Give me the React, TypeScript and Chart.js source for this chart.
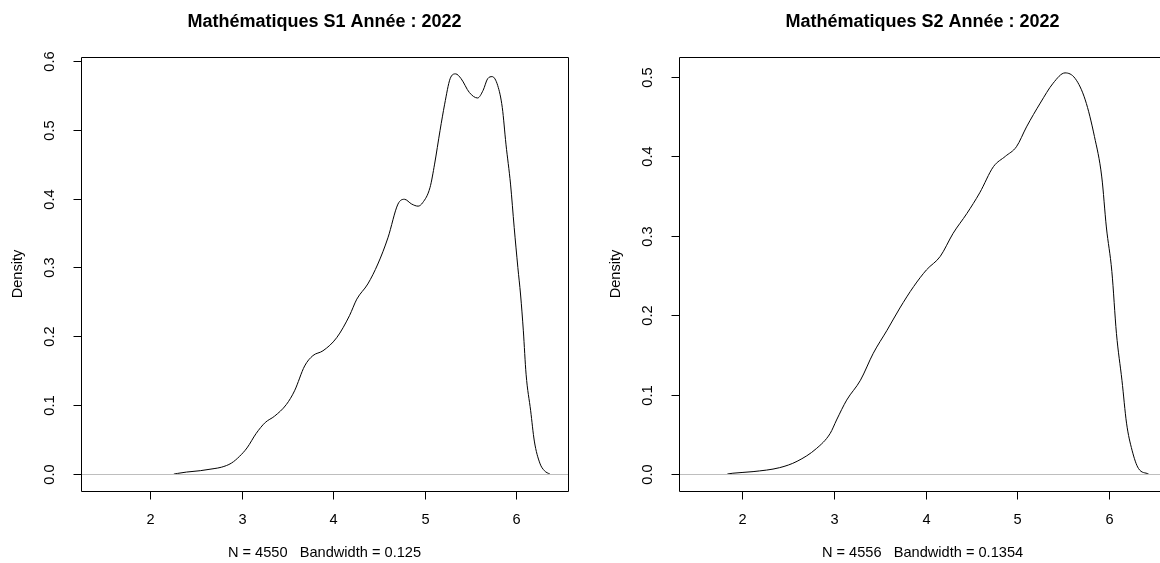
import React, { useEffect, useRef } from "react";
import { Chart, registerables } from "chart.js";

Chart.register(...registerables);

// ---- Data ----
const s1Title = "Mathématiques S1 Année : 2022";
const s1Sub = "N = 4550   Bandwidth = 0.125";
const s1X = [2.26, 2.3, 2.4, 2.55, 2.7, 2.78, 2.89, 2.98, 3.06, 3.16, 3.26, 3.36, 3.49, 3.58, 3.69, 3.78, 3.89, 4.04, 4.18, 4.26, 4.38, 4.49, 4.6, 4.71, 4.78, 4.86, 4.93, 4.98, 5.06, 5.11, 5.17, 5.22, 5.28, 5.34, 5.4, 5.49, 5.58, 5.64, 5.69, 5.74, 5.8, 5.85, 5.89, 5.94, 5.98, 6.02, 6.05, 6.08, 6.11, 6.16, 6.2, 6.26, 6.31, 6.37];
const s1Y = [0, 0.001, 0.003, 0.005, 0.008, 0.01, 0.016, 0.026, 0.038, 0.059, 0.075, 0.084, 0.101, 0.121, 0.157, 0.172, 0.179, 0.198, 0.23, 0.254, 0.276, 0.305, 0.343, 0.392, 0.399, 0.392, 0.389, 0.394, 0.416, 0.45, 0.499, 0.537, 0.574, 0.581, 0.574, 0.554, 0.546, 0.557, 0.574, 0.577, 0.564, 0.532, 0.479, 0.421, 0.358, 0.3, 0.26, 0.208, 0.145, 0.092, 0.048, 0.016, 0.005, 0];
const s1XTicks = [2, 3, 4, 5, 6];
const s1YTicks = [0, 0.1, 0.2, 0.3, 0.4, 0.5, 0.6];
const s1XRange = [1.246, 6.568];
const s1YRange = [-0.0245, 0.6055];

const s2Title = "Mathématiques S2 Année : 2022";
const s2Sub = "N = 4556   Bandwidth = 0.1354";
const s2X = [1.84, 1.9, 2.12, 2.41, 2.6, 2.81, 2.96, 3.03, 3.14, 3.29, 3.43, 3.58, 3.72, 3.87, 4.01, 4.16, 4.3, 4.45, 4.59, 4.74, 4.87, 4.99, 5.1, 5.25, 5.39, 5.52, 5.63, 5.74, 5.84, 5.92, 5.97, 6.03, 6.08, 6.14, 6.19, 6.25, 6.32, 6.43];
const s2Y = [0, 0.001, 0.003, 0.008, 0.016, 0.032, 0.051, 0.068, 0.093, 0.118, 0.152, 0.181, 0.209, 0.236, 0.257, 0.274, 0.303, 0.328, 0.354, 0.387, 0.4, 0.412, 0.437, 0.467, 0.492, 0.505, 0.498, 0.471, 0.425, 0.374, 0.311, 0.255, 0.177, 0.118, 0.064, 0.03, 0.007, 0];
const s2XTicks = [2, 3, 4, 5, 6];
const s2YTicks = [0, 0.1, 0.2, 0.3, 0.4, 0.5];
const s2XRange = [1.313, 6.62];
const s2YRange = [-0.0214, 0.525];

const yLabel = "Density";
const FONT = "'Liberation Sans', Arial, Helvetica, sans-serif";

type PanelProps = {
  title: string;
  sub: string;
  xs: number[];
  ys: number[];
  xTicks: number[];
  yTicks: number[];
  xRange: number[];
  yRange: number[];
  left: number;
};

function rPlotPlugin(title: string, sub: string, xTicks: number[], yTicks: number[]) {
  return {
    id: "rplot",
    afterDatasetsDraw(chart: any) {
      const { ctx, chartArea: a, scales } = chart;
      const sx = scales.x;
      const sy = scales.y;
      const L = Math.round(a.left) + 0.5;
      const R = Math.round(a.right) + 0.5;
      const T = Math.round(a.top) + 0.5;
      const B = Math.round(a.bottom) + 0.5;
      const TICK = 8;
      ctx.save();
      // zero line (drawn over the curve, like R's abline)
      ctx.lineWidth = 1;
      ctx.strokeStyle = "#BEBEBE";
      const y0 = Math.round(sy.getPixelForValue(0)) + 0.5;
      ctx.beginPath();
      ctx.moveTo(L, y0);
      ctx.lineTo(R, y0);
      ctx.stroke();
      // box
      ctx.strokeStyle = "#000";
      ctx.beginPath();
      ctx.rect(L, T, R - L, B - T);
      ctx.stroke();
      // x ticks
      ctx.fillStyle = "#000";
      ctx.font = `14.6px ${FONT}`;
      ctx.textAlign = "center";
      ctx.textBaseline = "middle";
      for (const v of xTicks) {
        const px = Math.round(sx.getPixelForValue(v)) + 0.5;
        ctx.beginPath();
        ctx.moveTo(px, B);
        ctx.lineTo(px, B + TICK);
        ctx.stroke();
        ctx.fillText(String(v), px, a.bottom + 29);
      }
      // y ticks
      for (const v of yTicks) {
        const py = Math.round(sy.getPixelForValue(v)) + 0.5;
        ctx.beginPath();
        ctx.moveTo(L, py);
        ctx.lineTo(L - TICK, py);
        ctx.stroke();
        ctx.save();
        ctx.translate(a.left - 31, py);
        ctx.rotate(-Math.PI / 2);
        ctx.fillText(v.toFixed(1), 0, 0);
        ctx.restore();
      }
      // y label
      ctx.save();
      ctx.translate(a.left - 63, (a.top + a.bottom) / 2);
      ctx.rotate(-Math.PI / 2);
      ctx.fillText(yLabel, 0, 0);
      ctx.restore();
      // sub title
      ctx.fillText(sub, (a.left + a.right) / 2, a.bottom + 62);
      // main title
      ctx.font = `bold 18px ${FONT}`;
      ctx.fillText(title, (a.left + a.right) / 2, a.top - 35);
      ctx.restore();
    },
  };
}

function Panel(p: PanelProps) {
  const ref = useRef<HTMLCanvasElement | null>(null);
  useEffect(() => {
    if (!ref.current) return;
    const data = p.xs.map((x, i) => ({ x, y: p.ys[i] }));
    const chart = new Chart(ref.current, {
      type: "line",
      data: {
        datasets: [
          {
            data,
            borderColor: "#000",
            borderWidth: 1,
            pointRadius: 0,
            fill: false,
            cubicInterpolationMode: "monotone",
          },
        ],
      },
      options: {
        animation: false,
        responsive: false,
        devicePixelRatio: 1,
        events: [],
        layout: { padding: { left: 81, right: 30, top: 57, bottom: 72 } },
        plugins: { legend: { display: false }, tooltip: { enabled: false }, title: { display: false } },
        scales: {
          x: { type: "linear", min: p.xRange[0], max: p.xRange[1], display: false },
          y: { type: "linear", min: p.yRange[0], max: p.yRange[1], display: false },
        },
      },
      plugins: [rPlotPlugin(p.title, p.sub, p.xTicks, p.yTicks)],
    } as any);
    return () => chart.destroy();
  }, []);
  return (
    <canvas
      ref={ref}
      width={598}
      height={563}
      style={{ position: "absolute", left: p.left, top: 0, width: 598, height: 563 }}
    />
  );
}

export default function App() {
  return (
    <div
      style={{
        position: "fixed",
        left: 0,
        top: 0,
        width: 1160,
        height: 563,
        overflow: "hidden",
        background: "#fff",
      }}
    >
      <Panel title={s1Title} sub={s1Sub} xs={s1X} ys={s1Y} xTicks={s1XTicks} yTicks={s1YTicks} xRange={s1XRange} yRange={s1YRange} left={0} />
      <Panel title={s2Title} sub={s2Sub} xs={s2X} ys={s2Y} xTicks={s2XTicks} yTicks={s2YTicks} xRange={s2XRange} yRange={s2YRange} left={598} />
    </div>
  );
}
